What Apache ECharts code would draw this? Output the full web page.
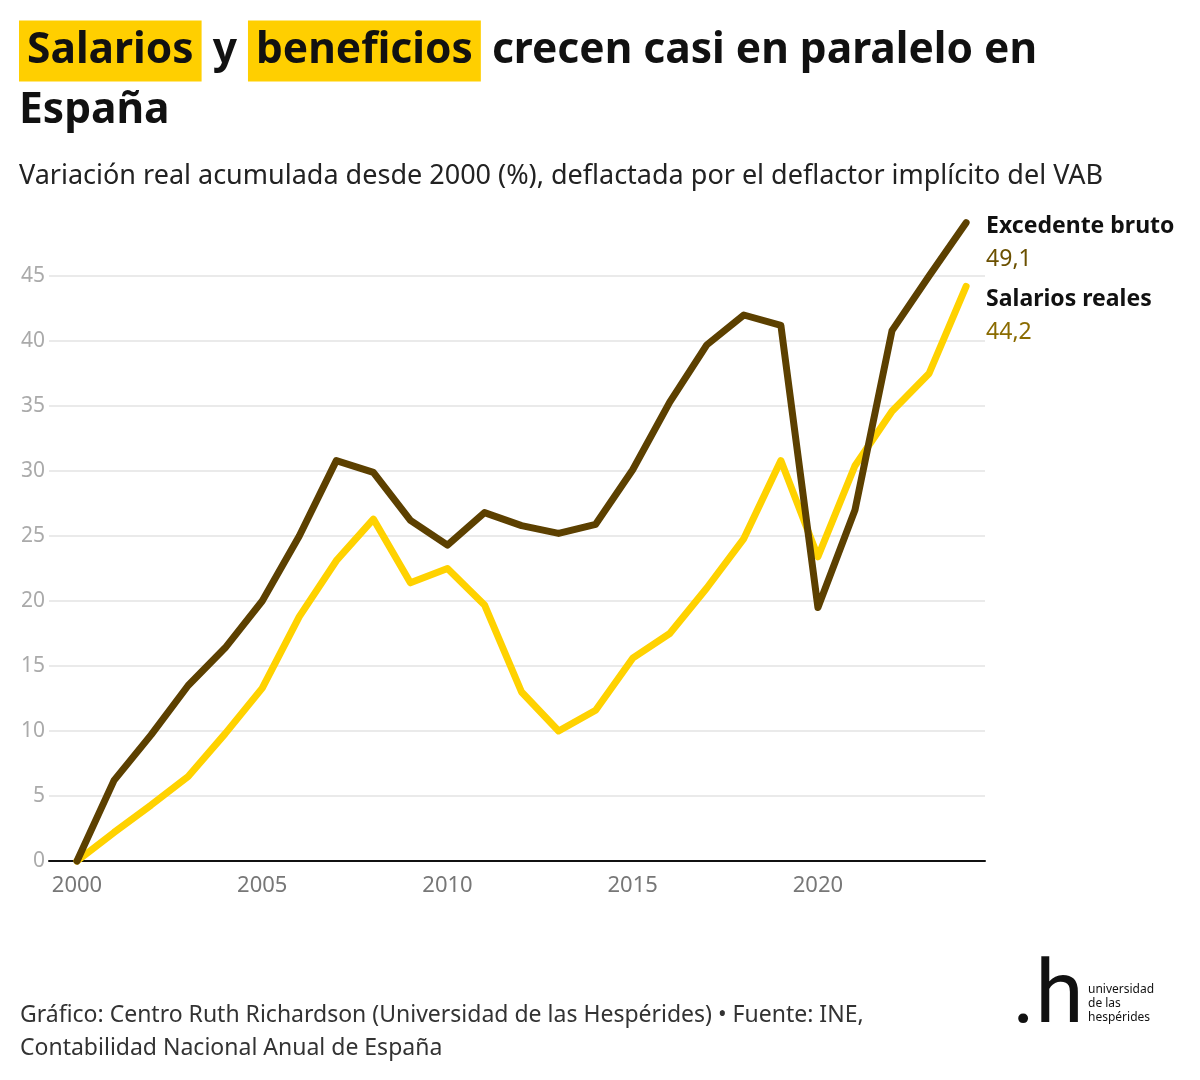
<!DOCTYPE html>
<html>
<head>
<meta charset="utf-8">
<script src="https://cdn.jsdelivr.net/npm/echarts@6/dist/echarts.min.js"></script>
<style>
  html, body { margin: 0; padding: 0; background: #fff; }
  #chart { width: 1200px; height: 1080px; }
</style>
</head>
<body>
<div id="chart"></div>
<script>
// años y series (variación real acumulada desde 2000, %)
const years = [2000, 2001, 2002, 2003, 2004, 2005, 2006, 2007, 2008, 2009, 2010, 2011, 2012,
  2013, 2014, 2015, 2016, 2017, 2018, 2019, 2020, 2021, 2022, 2023, 2024];
const excedente = [0, 6.2, 9.7, 13.5, 16.4, 20.0, 25.0, 30.8, 29.9, 26.2, 24.3, 26.8, 25.8,
  25.2, 25.9, 30.1, 35.3, 39.7, 42.0, 41.2, 19.5, 27.0, 40.8, 45.0, 49.1];
const salarios = [0, 2.2, 4.3, 6.5, 9.8, 13.3, 18.8, 23.1, 26.3, 21.4, 22.5, 19.7, 13.0,
  10.0, 11.6, 15.6, 17.5, 21.0, 24.8, 30.8, 23.4, 30.4, 34.6, 37.5, 44.2];
const xTicks = [2000, 2005, 2010, 2015, 2020];

const FONT = "Noto Sans";
const BROWN = "#5c4000";
const YELLOW = "#ffd200";

const pairs = (arr) => years.map((y, i) => [y, arr[i]]);
const fmt = (v) => v.toFixed(1).replace(".", ",");

const chart = echarts.init(document.getElementById("chart"));

const option = {
  backgroundColor: "#fff",
  animation: false,
  textStyle: { fontFamily: FONT },
  title: [
    {
      left: 14,
      top: 16,
      text: "{h|Salarios} y {h|beneficios} crecen casi en paralelo en\nEspaña",
      textStyle: {
        fontFamily: FONT,
        fontSize: 42.5,
        fontWeight: "bold",
        color: "#111",
        lineHeight: 60,
        rich: {
          h: {
            fontFamily: FONT,
            fontSize: 42.5,
            fontWeight: "bold",
            color: "#111",
            backgroundColor: "#ffcf00",
            padding: [9, 8, 9, 8],
          },
        },
      },
    },
    {
      left: 14,
      top: 158,
      text: "Variación real acumulada desde 2000 (%), deflactada por el deflactor implícito del VAB",
      textStyle: { fontFamily: FONT, fontSize: 27, fontWeight: "normal", color: "#222" },
    },
    {
      left: 15,
      top: 994,
      text: "Gráfico: Centro Ruth Richardson (Universidad de las Hespérides) • Fuente: INE,\nContabilidad Nacional Anual de España",
      textStyle: { fontFamily: FONT, fontSize: 23, fontWeight: "normal", color: "#333", lineHeight: 33 },
    },
  ],
  graphic: [
    {
      type: "text",
      left: 1012,
      top: 956,
      style: { text: ".h", font: "normal 88px Roboto", fill: "#111" },
    },
    {
      type: "text",
      left: 1088,
      top: 983,
      style: {
        text: "universidad\nde las\nhespérides",
        font: "normal 12px " + FONT,
        lineHeight: 14,
        fill: "#111",
      },
    },
  ],
  grid: { left: 49, right: 215, top: 276, bottom: 219, containLabel: false },
  xAxis: {
    type: "value",
    min: 1999.244,
    max: 2024.51,
    axisLine: { show: true, onZero: false, lineStyle: { color: "#111", width: 2 } },
    axisTick: { show: false },
    splitLine: { show: false },
    axisLabel: {
      customValues: xTicks,
      color: "#777",
      fontSize: 22,
      fontFamily: FONT,
      margin: 14,
      formatter: (v) => String(v),
    },
  },
  yAxis: {
    type: "value",
    min: 0,
    max: 45,
    interval: 5,
    axisLine: { show: false },
    axisTick: { show: false },
    splitLine: { lineStyle: { color: "#e3e3e3", width: 1.5 } },
    axisLabel: { color: "#aaa", fontSize: 21, fontFamily: FONT, margin: 4 },
  },
  series: [
    {
      name: "Salarios reales",
      type: "line",
      data: pairs(salarios),
      symbol: "none",
      clip: false,
      lineStyle: { color: YELLOW, width: 7, cap: "round", join: "round" },
      endLabel: {
        show: true,
        distance: 20,
        offset: [0, 30],
        formatter: "{t|Salarios reales}\n{v|" + fmt(salarios[salarios.length - 1]) + "}",
        rich: {
          t: { fontFamily: FONT, fontSize: 23, fontWeight: "bold", color: "#111", lineHeight: 33 },
          v: { fontFamily: FONT, fontSize: 23, color: "#8a6b00", lineHeight: 33 },
        },
      },
    },
    {
      name: "Excedente bruto",
      type: "line",
      data: pairs(excedente),
      symbol: "none",
      clip: false,
      lineStyle: { color: BROWN, width: 7, cap: "round", join: "round" },
      endLabel: {
        show: true,
        distance: 20,
        offset: [0, 20],
        formatter: "{t|Excedente bruto}\n{v|" + fmt(excedente[excedente.length - 1]) + "}",
        rich: {
          t: { fontFamily: FONT, fontSize: 23, fontWeight: "bold", color: "#111", lineHeight: 33 },
          v: { fontFamily: FONT, fontSize: 23, color: "#6b5000", lineHeight: 33 },
        },
      },
    },
  ],
};

chart.setOption(option);
</script>
</body>
</html>
